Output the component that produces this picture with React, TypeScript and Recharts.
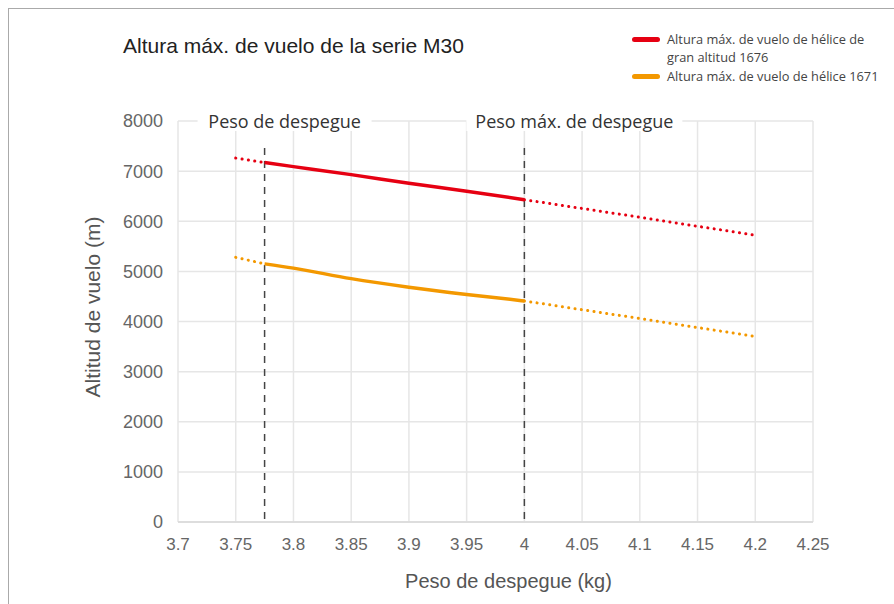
import { CartesianGrid, Line, LineChart, ReferenceLine, XAxis, YAxis } from "recharts"

// pesos de despegue (kg) y alturas (m)
const redLeft = [
  { peso: 3.75, altura: 7260 },
  { peso: 3.775, altura: 7170 },
]
const redMain = [
  { peso: 3.775, altura: 7170 },
  { peso: 3.8, altura: 7090 },
  { peso: 3.85, altura: 6930 },
  { peso: 3.9, altura: 6760 },
  { peso: 3.95, altura: 6600 },
  { peso: 4.0, altura: 6430 },
]
const redRight = [
  { peso: 4.0, altura: 6430 },
  { peso: 4.1, altura: 6080 },
  { peso: 4.2, altura: 5720 },
]
const orangeLeft = [
  { peso: 3.75, altura: 5280 },
  { peso: 3.775, altura: 5150 },
]
const orangeMain = [
  { peso: 3.775, altura: 5150 },
  { peso: 3.8, altura: 5065 },
  { peso: 3.85, altura: 4855 },
  { peso: 3.9, altura: 4685 },
  { peso: 3.95, altura: 4540 },
  { peso: 4.0, altura: 4410 },
]
const orangeRight = [
  { peso: 4.0, altura: 4410 },
  { peso: 4.1, altura: 4060 },
  { peso: 4.2, altura: 3700 },
]

const xTicks = [3.7, 3.75, 3.8, 3.85, 3.9, 3.95, 4, 4.05, 4.1, 4.15, 4.2, 4.25]
const yTicks = [0, 1000, 2000, 3000, 4000, 5000, 6000, 7000, 8000]

const RED = "#e60012"
const ORANGE = "#f39800"
const dotted = "0.1 6.3"

const markers = [
  { x: 3.775, text: "Peso de despegue", dx: 20, w: 174 },
  { x: 4.0, text: "Peso máx. de despegue", dx: 50, w: 216 },
]

export default function App() {
  const markerLabel = (text: string, dx: number, w: number) => (props: any) => {
    const vb = props.viewBox
    const cx = vb.x + dx
    const cy = 121
    return (
      <g>
        <rect x={cx - w / 2} y={cy - 10} width={w} height={20} fill="#fff" />
        <text x={cx} y={cy} textAnchor="middle" dominantBaseline="central"
          fontFamily="Open Sans" fontSize={18} fill="#333">{text}</text>
      </g>
    )
  }

  const swatch = (color: string) => (
    <span style={{ width: 28, height: 5, borderRadius: 3, background: color, marginTop: 6.25, marginRight: 7, flex: "none" }} />
  )

  return (
    <div style={{ position: "absolute", left: 0, top: 0, width: 894, height: 604, fontFamily: "Open Sans" }}>
      <div style={{ position: "absolute", left: 8, top: 8, right: 0, bottom: 0, borderLeft: "1px solid #aaa", borderTop: "1px solid #aaa" }} />
      <div style={{ position: "absolute", left: 123, top: 34, fontFamily: "Liberation Sans", fontSize: 21, color: "#222" }}>
        Altura máx. de vuelo de la serie M30
      </div>
      <div style={{ position: "absolute", left: 632, top: 31, fontSize: 12.8, color: "#444", lineHeight: "17.5px" }}>
        <div style={{ display: "flex" }}>
          {swatch(RED)}
          <div>
            <div>Altura máx. de vuelo de hélice de</div>
            <div>gran altitud 1676</div>
          </div>
        </div>
        <div style={{ display: "flex", marginTop: 2 }}>
          {swatch(ORANGE)}
          <div>Altura máx. de vuelo de hélice 1671</div>
        </div>
      </div>
      <LineChart width={894} height={604} margin={{ top: 121, right: 81, left: 0, bottom: 0 }}
        style={{ position: "absolute", left: 0, top: 0 }}>
        <CartesianGrid stroke="#e6e6e6" strokeWidth={1.5} />
        <XAxis type="number" dataKey="peso" domain={[3.7, 4.25]} ticks={xTicks} height={82}
          axisLine={{ stroke: "#d8d8d8", strokeWidth: 1.5 }} tickLine={false} tickMargin={10}
          tick={{ fontFamily: "Liberation Sans", fontSize: 17, fill: "#666" }}
          label={(p: any) => (
            <text x={p.viewBox.x + p.viewBox.width / 2 + 13} y={588} textAnchor="middle"
              fontFamily="Liberation Sans" fontSize={20} fill="#555">Peso de despegue (kg)</text>
          )} />
        <YAxis type="number" dataKey="altura" domain={[0, 8000]} ticks={yTicks} width={178}
          axisLine={false} tickLine={false} tickMargin={9}
          tick={{ fontFamily: "Liberation Sans", fontSize: 18, fill: "#666" }}
          label={() => (
            <text x={100} y={307} textAnchor="middle" transform="rotate(-90 100 307)"
              fontFamily="Liberation Sans" fontSize={21} fill="#555">Altitud de vuelo (m)</text>
          )} />
        {markers.map((m) => (
          <ReferenceLine key={m.x} segment={[{ x: m.x, y: 7460 }, { x: m.x, y: 0 }]}
            stroke="#444" strokeWidth={1.5} strokeDasharray="7 6"
            label={markerLabel(m.text, m.dx, m.w)} />
        ))}
        <Line data={redLeft} dataKey="altura" stroke={RED} strokeWidth={3} strokeDasharray={dotted}
          strokeLinecap="round" dot={false} isAnimationActive={false} />
        <Line data={redMain} dataKey="altura" type="monotone" stroke={RED} strokeWidth={3.5}
          dot={false} isAnimationActive={false} />
        <Line data={redRight} dataKey="altura" stroke={RED} strokeWidth={3} strokeDasharray={dotted}
          strokeLinecap="round" dot={false} isAnimationActive={false} />
        <Line data={orangeLeft} dataKey="altura" stroke={ORANGE} strokeWidth={3} strokeDasharray={dotted}
          strokeLinecap="round" dot={false} isAnimationActive={false} />
        <Line data={orangeMain} dataKey="altura" type="monotone" stroke={ORANGE} strokeWidth={3.5}
          dot={false} isAnimationActive={false} />
        <Line data={orangeRight} dataKey="altura" stroke={ORANGE} strokeWidth={3} strokeDasharray={dotted}
          strokeLinecap="round" dot={false} isAnimationActive={false} />
      </LineChart>
    </div>
  )
}
